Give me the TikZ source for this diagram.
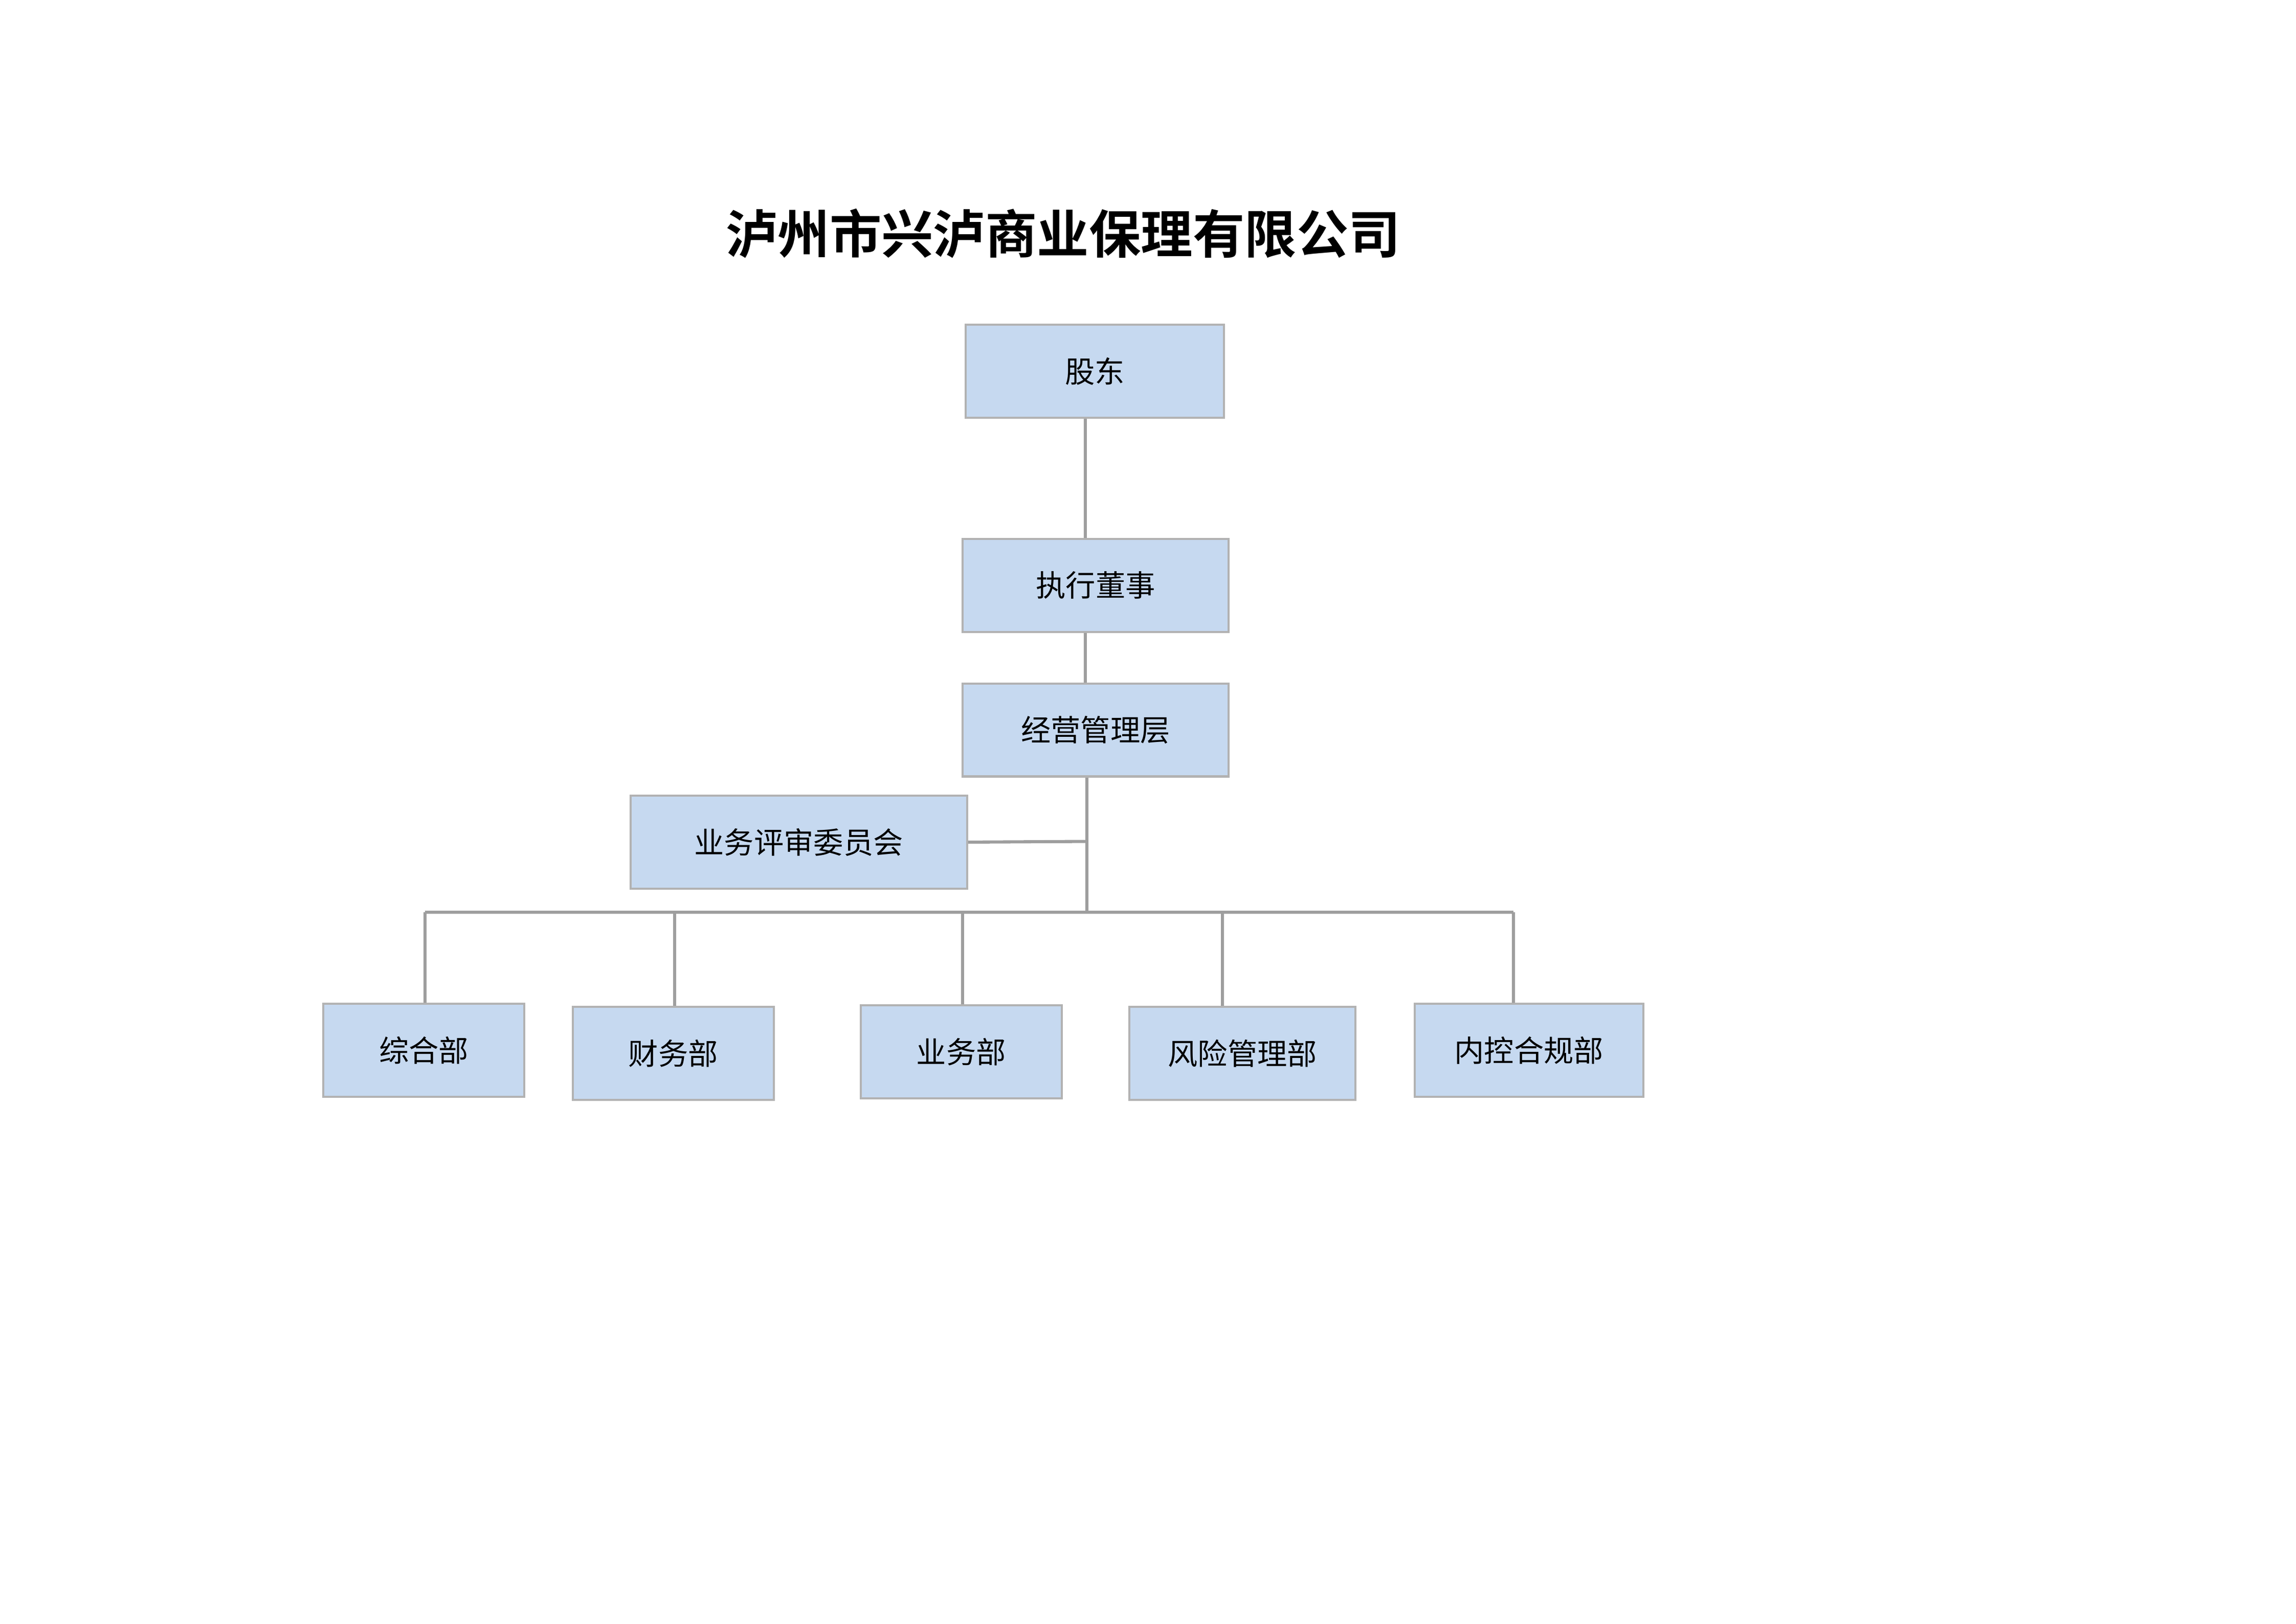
\documentclass[tikz,border=0pt]{standalone}
\usepackage{fontspec}
\newfontfamily\cjk{Noto Sans CJK SC}
\newfontfamily\cjkb{Noto Sans CJK SC Bold}
\begin{document}
\begin{tikzpicture}[x=0.02cm,y=-0.02cm,
 bx/.style={draw=black!30,line width=0.8pt,fill=blue!25!cyan!10!white,fill=boxc,inner sep=0pt,font=\cjk\fontsize{11.5}{13}\selectfont},
 ln/.style={draw=black!38,line width=1.2pt}]
\definecolor{boxc}{HTML}{C6D9F0}
\useasboundingbox (0,0) rectangle (1555,1100);
\node[font=\cjkb\fontsize{20}{24}\selectfont] (t) at (720,158) {泸州市兴泸商业保理有限公司};
\newcommand\mybox[6]{\node[bx,minimum width={(#3-#2)*0.02cm},minimum height={(#5-#4)*0.02cm}] (#1) at ({(#2+#3)/2},{(#4+#5)/2}) {#6};}
\mybox{gd}{654}{829}{220}{283}{股东}
\mybox{zx}{652}{832}{365}{428}{执行董事}
\mybox{jy}{652}{832}{463}{526}{经营管理层}
\mybox{ps}{427}{655}{539}{602}{业务评审委员会}
\mybox{zh}{219}{355}{680}{743}{综合部}
\mybox{cw}{388}{524}{682}{745}{财务部}
\mybox{yw}{583}{719}{681}{744}{业务部}
\mybox{fx}{765}{918}{682}{745}{风险管理部}
\mybox{nk}{958}{1113}{680}{743}{内控合规部}
\coordinate (j) at (736,570);
\coordinate (b) at (736,618);
\draw[ln] (gd.south -| 735,0) -- (zx.north -| 735,0);
\draw[ln] (zx.south -| 735,0) -- (jy.north -| 735,0);
\draw[ln] (jy.south -| 736,0) -- (b);
\draw[ln] (ps.east) -- (j);
\draw[ln] (288,618) -- (1025,618);
\draw[ln] (288,618) -- (zh.north -| 288,0);
\draw[ln] (457,618) -- (cw.north -| 457,0);
\draw[ln] (652,618) -- (yw.north -| 652,0);
\draw[ln] (828,618) -- (fx.north -| 828,0);
\draw[ln] (1025,618) -- (nk.north -| 1025,0);
\end{tikzpicture}
\end{document}
